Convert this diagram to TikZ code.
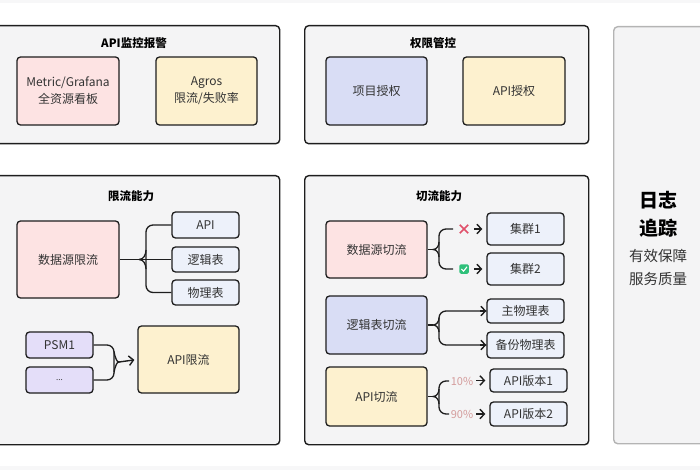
\documentclass[tikz,border=0pt]{standalone}
\usepackage{fontspec}
\setmainfont{Noto Sans CJK SC}
\usetikzlibrary{arrows.meta}
\definecolor{panelfill}{HTML}{F4F4F5}
\definecolor{bandfill}{HTML}{F7F7F8}
\definecolor{edge}{HTML}{1E1E1E}
\definecolor{pinkf}{HTML}{FDE3E3}
\definecolor{yellowf}{HTML}{FDF1CF}
\definecolor{bluef}{HTML}{D9DDF5}
\definecolor{lightf}{HTML}{EDF1FA}
\definecolor{purplef}{HTML}{E4DEF9}
\definecolor{txt}{HTML}{333333}
\definecolor{pct}{HTML}{D49C9C}
\definecolor{xred}{HTML}{E0506A}
\definecolor{okgreen}{HTML}{2FC07A}
\definecolor{greyedge}{HTML}{B4B4B4}
\tikzset{
  panel/.style={draw=edge, line width=1.4pt, fill=panelfill, rounded corners=4pt, anchor=north west, inner sep=0pt},
  box/.style={draw=edge, line width=1.3pt, rounded corners=3.5pt, text=txt, font=\fontsize{12}{17}\selectfont, align=center, inner sep=0pt},
  ptitle/.style={font=\fontsize{11.5}{14}\selectfont\bfseries, text=black},
  conn/.style={draw=edge, line width=1.3pt},
  arr/.style={draw=edge, line width=1.4pt, -{Straight Barb[length=4.5pt,width=9.5pt]}},
  pcttext/.style={text=pct, font=\fontsize{11}{13}\selectfont},
}
\begin{document}
\begin{tikzpicture}[x=1pt,y=-1pt]
\useasboundingbox (0,0) rectangle (700,470);
\clip (0,0) rectangle (700,470);
\fill[bandfill] (0,0) rectangle (700,3);
\fill[bandfill] (0,466) rectangle (700,470);

% panels
\node[panel, minimum width=289pt, minimum height=118pt] (p1) at (-10,25) {};
\node[panel, minimum width=284pt, minimum height=118pt] (p2) at (304,25) {};
\node[panel, minimum width=289pt, minimum height=269pt] (p3) at (-10,175) {};
\node[panel, minimum width=284pt, minimum height=269pt] (p4) at (304,175) {};
\node[panel, draw=greyedge, minimum width=110pt, minimum height=417pt] (p5) at (613,26) {};

% titles
\node[ptitle] (t1) at (134,43) {API监控报警};
\node[ptitle] (t2) at (433,43) {权限管控};
\node[ptitle] (t3) at (131,196) {限流能力};
\node[ptitle] (t4) at (439,196) {切流能力};

% right panel text
\node[align=center, text=black, font=\fontsize{19}{28}\selectfont\bfseries] (rz) at (658,214) {日志\\追踪};
\node[align=center, text=txt, font=\fontsize{14.5}{23}\selectfont] (rb) at (658,267) {有效保障\\服务质量};

% top boxes
\node[box, fill=pinkf, minimum width=102pt, minimum height=68pt] (metric) at (68,91) {Metric/Grafana\\全资源看板};
\node[box, fill=yellowf, minimum width=101pt, minimum height=68pt] (agros) at (206.5,91) {Agros\\限流/失败率};
\node[box, fill=bluef, minimum width=101pt, minimum height=68pt] (xmsq) at (376.5,91) {项目授权};
\node[box, fill=yellowf, minimum width=102pt, minimum height=68pt] (apisq) at (514,91) {API授权};

% 限流能力
\node[box, fill=pinkf, minimum width=102pt, minimum height=77pt] (sjyxl) at (68,259.5) {数据源限流};
\node[box, fill=lightf, minimum width=67pt, minimum height=26pt] (api) at (205.5,225) {API};
\node[box, fill=lightf, minimum width=67pt, minimum height=25pt] (ljb) at (205.5,259.5) {逻辑表};
\node[box, fill=lightf, minimum width=67pt, minimum height=25pt] (wlb) at (205.5,292.5) {物理表};
\node[box, fill=purplef, minimum width=67pt, minimum height=26pt] (psm) at (59.5,345) {PSM1};
\node[box, fill=purplef, minimum width=67pt, minimum height=26pt] (dots) at (59.5,380) {\fontsize{8}{10}\selectfont ...};
\node[box, fill=yellowf, minimum width=101pt, minimum height=67pt] (apixl) at (188.5,359.5) {API限流};

\draw[conn] (sjyxl.east) -- (ljb.west);
\draw[conn, rounded corners=7pt] (api.west) -- (146,225) -- (146,292.5) -- (wlb.west);
\draw[conn] (146,250) to[out=-90,in=0] (139,259.5);
\draw[conn] (146,269) to[out=90,in=0] (139,259.5);

\draw[conn, rounded corners=7pt] (psm.east) -- (114,345) -- (114,380) -- (dots.east);
\draw[conn] (114,353) to[out=90,in=180] (119,362) to[out=180,in=-90] (114,371);
\draw[arr, shorten >=3pt] (119,362) -- (apixl.west);

% 切流能力
\node[box, fill=pinkf, minimum width=101pt, minimum height=57pt] (sjyql) at (376.5,249.5) {数据源切流};
\node[box, fill=lightf, minimum width=77pt, minimum height=32pt] (jq1) at (525.5,229) {集群1};
\node[box, fill=lightf, minimum width=77pt, minimum height=32pt] (jq2) at (525.5,269) {集群2};
\node[box, fill=bluef, minimum width=101pt, minimum height=58pt] (ljbql) at (376.5,325) {逻辑表切流};
\node[box, fill=lightf, minimum width=77pt, minimum height=24pt] (zwlb) at (525.5,311) {主物理表};
\node[box, fill=lightf, minimum width=77pt, minimum height=26pt] (bfwlb) at (525.5,345) {备份物理表};
\node[box, fill=yellowf, minimum width=101pt, minimum height=59pt] (apiql) at (376.5,396.5) {API切流};
\node[box, fill=lightf, minimum width=77pt, minimum height=23pt] (v1) at (528.5,380.5) {API版本1};
\node[box, fill=lightf, minimum width=77pt, minimum height=24pt] (v2) at (528.5,414) {API版本2};

% brace 1
\coordinate (b1a) at (453,229);
\coordinate (b1b) at (453,269);
\draw[conn, rounded corners=7pt] (b1a) -- (439,229) -- (439,269) -- (b1b);
\draw[conn] (sjyql.east) -- (433,249.5);
\draw[conn] (439,242) to[out=-90,in=0] (433,249.5) to[out=0,in=90] (439,257);
% cross icon
\node[minimum size=8pt, inner sep=0pt] (xic) at (464,229) {};
\draw[xred, line width=1.7pt] (xic.south west) -- (xic.north east) (xic.north west) -- (xic.south east);
% check icon
\node[fill=okgreen, rounded corners=1.5pt, minimum size=9.5pt, inner sep=0pt] (okic) at (464,269) {};
\draw[white, line width=1.1pt] (461.3,269) -- (463.5,271.2) -- (467,266.8);
\draw[arr, shorten >=4pt] (474,229) -- (jq1.west);
\draw[arr, shorten >=4pt] (474,269) -- (jq2.west);

% brace 2
\draw[conn, rounded corners=7pt] (zwlb.west) -- (439,311) -- (439,345) -- (bfwlb.west);
\draw[conn] (ljbql.east) -- (433,325);
\draw[conn] (439,318) to[out=-90,in=0] (433,325) to[out=0,in=90] (439,332);
\draw[arr] (480,311) -- (zwlb.west);
\draw[arr] (480,345) -- (bfwlb.west);

% brace 3
\coordinate (b3a) at (449,381);
\coordinate (b3b) at (449,414);
\draw[conn, rounded corners=7pt] (b3a) -- (439,381) -- (439,414) -- (b3b);
\draw[conn] (apiql.east) -- (433,396.5);
\draw[conn] (439,389) to[out=-90,in=0] (433,396.5) to[out=0,in=90] (439,404);
\node[pcttext] (p10) at (462,381) {10\%};
\node[pcttext] (p90) at (462,414) {90\%};
\draw[arr, shorten >=4pt] (476,380.5) -- (v1.west);
\draw[arr, shorten >=4pt] (476,414) -- (v2.west);
\end{tikzpicture}
\end{document}
